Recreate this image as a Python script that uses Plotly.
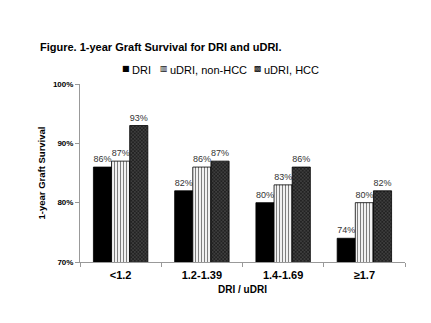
import plotly.graph_objects as go

categories = ["<1.2", "1.2-1.39", "1.4-1.69", "≥1.7"]
dri = [86, 82, 80, 74]
udri_non_hcc = [87, 86, 83, 80]
udri_hcc = [93, 87, 86, 82]

W, H = 431, 323
L, R, T, B = 80, 26, 84, 61
PW, PH = W - L - R, H - T - B


def px_x(x):
    return (x - L) / PW


def px_y(y):
    return (H - B - y) / PH


series = [
    ("DRI", dri, dict(color="black", line=dict(color="black", width=0.8)), "■", 126),
    ("uDRI, non-HCC", udri_non_hcc,
     dict(color="white", line=dict(color="black", width=0.8),
          pattern=dict(shape="|", fgcolor="black", bgcolor="white", size=3, solidity=0.4)),
     "▥", 164),
    ("uDRI, HCC", udri_hcc,
     dict(color="#333333", line=dict(color="black", width=0.8),
          pattern=dict(shape="x", fgcolor="#9a9a9a", bgcolor="#222222", size=2.5, solidity=0.3)),
     "▩", 258),
]

fig = go.Figure()
annotations = []
for name, vals, marker, glyph, lx in series:
    fig.add_trace(go.Bar(
        x=categories, y=vals, name=name, marker=marker,
        text=[f"{v}%" for v in vals], textposition="outside",
        textfont=dict(size=9, color="#333333", family="Liberation Sans"),
        cliponaxis=False, showlegend=False,
    ))
    # key entry: small swatch glyph followed by the series name
    annotations.append(dict(
        text=glyph, xref="paper", yref="paper", x=px_x(lx), y=px_y(68),
        xanchor="center", yanchor="middle", showarrow=False,
        font=dict(size=8, color="black", family="DejaVu Sans")))
    annotations.append(dict(
        text=name, xref="paper", yref="paper", x=px_x(lx + 4), y=px_y(70),
        xanchor="left", yanchor="middle", showarrow=False,
        font=dict(size=11, color="black", family="Liberation Sans")))

fig.update_layout(
    width=W, height=H,
    margin=dict(l=L, r=R, t=T, b=B),
    paper_bgcolor="white", plot_bgcolor="white",
    barmode="group", bargap=0.33, bargroupgap=0,
    font=dict(family="Liberation Sans, Arial", color="black"),
    title=dict(text="<b>Figure. 1-year Graft Survival for DRI and uDRI.</b>",
               x=40 / W, xanchor="left", y=1 - 47 / H, yanchor="middle",
               font=dict(size=11, color="black")),
    annotations=annotations,
)
fig.update_xaxes(
    showline=True, linecolor="#999999", linewidth=1,
    ticks="outside", ticklen=4, tickcolor="#999999",
    tickson="boundaries", ticklabelstandoff=3,
    tickfont=dict(size=11, color="black"),
    tickprefix="<b>", ticksuffix="</b>",
    title=dict(text="<b>DRI / uDRI</b>", font=dict(size=10), standoff=5),
)
fig.update_yaxes(
    range=[70, 100], dtick=10, showgrid=False, zeroline=False,
    showline=True, linecolor="#999999", linewidth=1,
    ticks="outside", ticklen=4, tickcolor="#999999",
    ticksuffix="%", tickprefix="<b>",
    tickfont=dict(size=8, color="black"),
    title=dict(text="<b>1-year Graft Survival</b>", font=dict(size=9.5), standoff=5),
)

fig.write_html("out.html")
